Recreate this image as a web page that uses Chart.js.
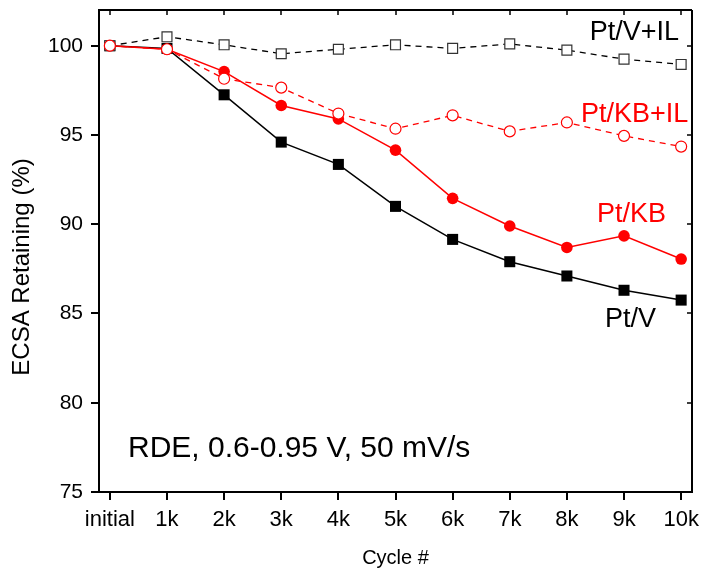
<!DOCTYPE html>
<html>
<head>
<meta charset="utf-8">
<script src="https://cdn.jsdelivr.net/npm/chart.js@4.4.1/dist/chart.umd.min.js"></script>
<style>
  html, body { margin: 0; padding: 0; background: #ffffff; }
  #wrap { width: 704px; height: 568px; }
</style>
</head>
<body>
<div id="wrap"><canvas id="chart" width="704" height="568"></canvas></div>
<script>
// Potential-cycling stability: ECSA retained after each 1k cycles
const cycles = ['initial', '1k', '2k', '3k', '4k', '5k', '6k', '7k', '8k', '9k', '10k'];
const ptV    = [100, 99.85, 97.25, 94.6, 93.35, 91.0, 89.15, 87.9, 87.1, 86.3, 85.75];
const ptKB   = [100, 99.8, 98.55, 96.65, 95.9, 94.15, 91.45, 89.9, 88.7, 89.35, 88.05];
const ptVIL  = [100, 100.5, 100.05, 99.55, 99.8, 100.05, 99.85, 100.1, 99.75, 99.25, 98.95];
const ptKBIL = [100, 99.8, 98.15, 97.65, 96.2, 95.35, 96.1, 95.2, 95.7, 94.95, 94.35];
const yTicks = [75, 80, 85, 90, 95, 100];

const FONT = '"Liberation Sans", Arial, Helvetica, sans-serif';
const RED = '#ff0000';
const BLACK = '#000000';

// in-plot captions, placed in data units
const captions = [
  { text: 'Pt/V+IL', x: 8.4,   y: 100.32, color: BLACK, size: 27 },
  { text: 'Pt/KB+IL', x: 8.245, y: 95.73, color: RED,   size: 27 },
  { text: 'Pt/KB',   x: 8.525, y: 90.12,  color: RED,   size: 27 },
  { text: 'Pt/V',    x: 8.665, y: 84.24,  color: BLACK, size: 27 },
  { text: 'RDE, 0.6-0.95 V, 50 mV/s', x: 0.317, y: 76.96, color: BLACK, size: 30 }
];

const toPoints = arr => arr.map((v, i) => ({ x: i, y: v }));

// closed frame with inward ticks on the top and right edges, plus captions
const framePlugin = {
  id: 'frame',
  afterDraw(chart) {
    const { ctx, chartArea: a, scales } = chart;
    const xs = scales.x, ys = scales.y;
    ctx.save();
    ctx.strokeStyle = BLACK;
    ctx.lineWidth = 2;
    ctx.beginPath();
    ctx.moveTo(a.left, a.top); ctx.lineTo(a.right, a.top);
    ctx.moveTo(a.right, a.top); ctx.lineTo(a.right, a.bottom);
    ctx.stroke();
    ctx.lineWidth = 1.5;
    ctx.beginPath();
    cycles.forEach((_, i) => {
      const px = Math.round(xs.getPixelForValue(i));
      ctx.moveTo(px, a.top); ctx.lineTo(px, a.top + 5);
    });
    yTicks.forEach(v => {
      const py = Math.round(ys.getPixelForValue(v));
      ctx.moveTo(a.right, py); ctx.lineTo(a.right - 5, py);
    });
    ctx.stroke();

    ctx.textBaseline = 'alphabetic';
    ctx.textAlign = 'left';
    captions.forEach(c => {
      ctx.fillStyle = c.color;
      ctx.font = c.size + 'px ' + FONT;
      ctx.fillText(c.text, xs.getPixelForValue(c.x), ys.getPixelForValue(c.y));
    });

    // vertical axis title
    ctx.save();
    ctx.translate(22, 267);
    ctx.rotate(-Math.PI / 2);
    ctx.textAlign = 'center';
    ctx.textBaseline = 'middle';
    ctx.fillStyle = BLACK;
    ctx.font = '24px ' + FONT;
    ctx.fillText('ECSA Retaining (%)', 0, 0);
    ctx.restore();
    ctx.restore();
  }
};

const axisGrid = {
  display: true,
  drawOnChartArea: false,
  drawTicks: true,
  tickLength: 8,
  tickWidth: 2,
  color: BLACK,
  lineWidth: 2
};

// fixed axis sizes with no extra label padding around the plot area
function fixSize(prop, size) {
  return scale => {
    scale[prop] = size;
    scale.paddingTop = 0; scale.paddingBottom = 0;
    scale.paddingLeft = 0; scale.paddingRight = 0;
  };
}

new Chart(document.getElementById('chart'), {
  type: 'line',
  data: {
    datasets: [
      {
        label: 'Pt/KB+IL', data: toPoints(ptKBIL), order: 0,
        borderColor: RED, borderWidth: 1.3, borderDash: [6, 5],
        pointStyle: 'circle', pointRadius: 5.5, pointBorderWidth: 1.2,
        pointBackgroundColor: '#ffffff', pointBorderColor: RED
      },
      {
        label: 'Pt/V+IL', data: toPoints(ptVIL), order: 1,
        borderColor: BLACK, borderWidth: 1.3, borderDash: [6, 5],
        pointStyle: 'rect', pointRadius: 7, pointBorderWidth: 1.2,
        pointBackgroundColor: '#ffffff', pointBorderColor: '#333333'
      },
      {
        label: 'Pt/KB', data: toPoints(ptKB), order: 2,
        borderColor: RED, borderWidth: 1.5,
        pointStyle: 'circle', pointRadius: 5.8, pointBorderWidth: 0,
        pointBackgroundColor: RED, pointBorderColor: RED
      },
      {
        label: 'Pt/V', data: toPoints(ptV), order: 3,
        borderColor: BLACK, borderWidth: 1.5,
        pointStyle: 'rect', pointRadius: 7.8, pointBorderWidth: 0,
        pointBackgroundColor: BLACK, pointBorderColor: BLACK
      }
    ]
  },
  options: {
    responsive: false,
    animation: false,
    events: [],
    layout: { autoPadding: false, padding: { top: 10, right: 12, left: 0, bottom: 0 } },
    plugins: { legend: { display: false }, tooltip: { enabled: false } },
    scales: {
      x: {
        type: 'linear',
        min: -0.19,
        max: 10.19,
        afterBuildTicks(scale) { scale.ticks = cycles.map((_, i) => ({ value: i })); },
        afterFit: fixSize('height', 76),
        grid: axisGrid,
        border: { display: true, color: BLACK, width: 2 },
        ticks: {
          autoSkip: false, maxRotation: 0, color: BLACK, padding: 7,
          font: { family: FONT, size: 22 },
          callback: v => cycles[v]
        },
        title: {
          display: true, text: 'Cycle #', color: BLACK,
          font: { family: FONT, size: 20 }, padding: { top: 0, bottom: -2 }
        }
      },
      y: {
        type: 'linear',
        min: 75,
        max: 102,
        afterBuildTicks(scale) { scale.ticks = yTicks.map(v => ({ value: v })); },
        afterFit: fixSize('width', 99),
        grid: axisGrid,
        border: { display: true, color: BLACK, width: 2 },
        ticks: { color: BLACK, padding: 8, font: { family: FONT, size: 21 } }
      }
    }
  },
  plugins: [framePlugin]
});
</script>
</body>
</html>
